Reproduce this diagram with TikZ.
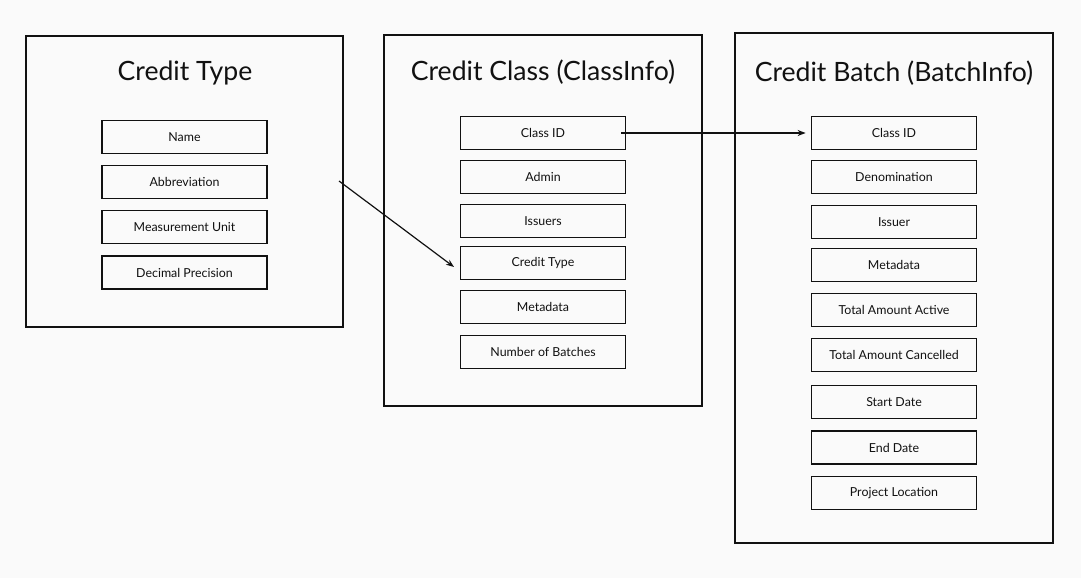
\documentclass[tikz,border=0pt]{standalone}
\usepackage{fontspec}
\setmainfont{Lato}
\usetikzlibrary{arrows.meta}
\definecolor{bg}{HTML}{FAFAFA}
\definecolor{ink}{HTML}{111111}
\begin{document}
\begin{tikzpicture}[x=1pt,y=-1pt,
  outer/.style={draw=ink,line width=1.5pt},
  field/.style={draw=ink,line width=1.8pt,minimum width=165pt,minimum height=33pt,inner sep=0pt,font=\fontsize{12.4}{14}\selectfont,text=ink},
  title/.style={font=\fontsize{26.6}{31}\selectfont,text=ink},
  arrow/.style={draw=ink,line width=1.2pt,-{Stealth[length=8pt,width=6pt]}}]
\fill[bg] (0,0) rectangle (1081,578);
\useasboundingbox (0,0) rectangle (1081,578);
% outer boxes
\draw[outer] (26,36) rectangle (343,327);
\draw[outer] (384,35) rectangle (702,406);
\draw[outer] (735,33) rectangle (1053,543);
% titles
\node[title] (t1) at (185,72.5) {Credit Type};
\node[title] (t2) at (543,72.5) {Credit Class (ClassInfo)};
\node[title] (t3) at (894,73.5) {Credit Batch (BatchInfo)};
% Credit Type fields
\node[field] (ct1) at (184.5,137) {Name};
\node[field] (ct2) at (184.5,182) {Abbreviation};
\node[field] (ct3) at (184.5,227) {Measurement Unit};
\node[field] (ct4) at (184.5,272.5) {Decimal Precision};
% Credit Class fields
\node[field] (c1) at (543,133) {Class ID};
\node[field] (c2) at (543,177) {Admin};
\node[field] (c3) at (543,221) {Issuers};
\node[field] (c4) at (543,263) {Credit Type};
\node[field] (c5) at (543,307) {Metadata};
\node[field] (c6) at (543,352) {Number of Batches};
% Credit Batch fields
\node[field] (b1) at (894,133) {Class ID};
\node[field] (b2) at (894,177) {Denomination};
\node[field] (b3) at (894,222) {Issuer};
\node[field] (b4) at (894,265) {Metadata};
\node[field] (b5) at (894,310) {Total Amount Active};
\node[field] (b6) at (894,355) {Total Amount Cancelled};
\node[field] (b7) at (894,402) {Start Date};
\node[field] (b8) at (894,447.5) {End Date};
\node[field] (b9) at (894,493) {Project Location};
% connectors
\coordinate (a1s) at (339,181);
\coordinate (a1e) at (454,267);
\draw[arrow] (a1s) -- (a1e);
\draw[arrow] ([xshift=-5pt]c1.east) -- ([xshift=-5pt]b1.west);
\end{tikzpicture}
\end{document}
